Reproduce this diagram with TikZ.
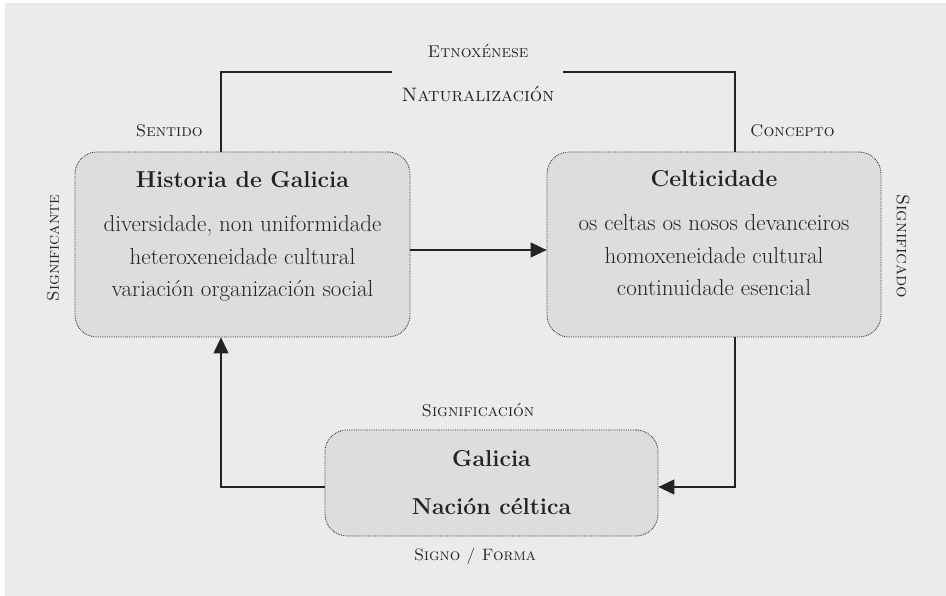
\documentclass[tikz,border=0pt]{standalone}
\usetikzlibrary{arrows.meta}
\definecolor{bgc}{RGB}{235,235,237}
\definecolor{boxc}{RGB}{220,221,223}
\definecolor{inkc}{RGB}{35,35,35}
\begin{document}
\begin{tikzpicture}[x=1pt,y=-1pt,
  box/.style={draw=inkc, densely dotted, line width=0.8pt, fill=boxc, rounded corners=22pt, inner sep=0pt},
  ttl/.style={anchor=base, font=\fontsize{23}{26}\selectfont\bfseries, text=inkc, inner sep=0pt},
  body/.style={anchor=base, font=\fontsize{23}{26}\selectfont, text=inkc, inner sep=0pt},
  lab/.style={anchor=base, font=\fontsize{17}{19}\selectfont\scshape, text=inkc, inner sep=0pt},
  conn/.style={draw=inkc, line width=1.1pt},
  arr/.style={conn, -{Triangle[length=16pt,width=15pt]}}
]
\useasboundingbox (0,0) rectangle (946,596);
\fill[white] (0,0) rectangle (946,596);
\fill[bgc] (5,3) rectangle (946,596);

% boxes
\node[box, minimum width=335pt, minimum height=185pt] (lbox) at (242.5,244.5) {};
\node[box, minimum width=334pt, minimum height=185pt] (rbox) at (714,244.5) {};
\node[box, minimum width=333pt, minimum height=106pt] (bbox) at (491.5,483) {};

% left box text
\node[ttl] (lt) at (242.5,188) {Historia de Galicia};
\node[body] (l1) at (242.5,232) {diversidade, non uniformidade};
\node[body] (l2) at (242.5,264.5) {heteroxeneidade cultural};
\node[body] (l3) at (242.5,297) {variación organización social};

% right box text
\node[ttl] (rt) at (714,187) {Celticidade};
\node[body] (r1) at (714,231) {os celtas os nosos devanceiros};
\node[body] (r2) at (714,263.5) {homoxeneidade cultural};
\node[body] (r3) at (714,296) {continuidade esencial};

% bottom box text
\node[ttl] (bt1) at (491.5,466) {Galicia};
\node[ttl] (bt2) at (491.5,514) {Nación céltica};

% labels
\node[lab] (etno) at (478,58) {Etnoxénese};
\node[lab, font=\fontsize{19.5}{21}\selectfont\scshape] (natu) at (478,102) {Naturalización};
\node[lab, anchor=base east] (sent) at (203,137) {Sentido};
\node[lab, anchor=base west] (conc) at (750,137) {Concepto};
\node[lab] (sigc) at (478,416) {Significación};
\node[lab, font=\fontsize{16.5}{19}\selectfont\scshape] (sigf) at (475,560) {Signo / Forma};
\node[lab, anchor=center, rotate=90] (sgte) at (53,248) {Significante};
\node[lab, anchor=center, rotate=-90, font=\fontsize{18}{20}\selectfont\scshape] (sgdo) at (903,246) {Significado};

% connectors
\coordinate (gl) at (392,72);
\coordinate (gr) at (563,72);
\coordinate (lx) at (221,0);
\coordinate (rx) at (735,0);
\draw[conn] (lbox.north -| lx) |- (gl);
\draw[conn] (rbox.north -| rx) |- (gr);
\draw[arr] (lbox.east |- 0,250) -- (rbox.west |- 0,250);
\coordinate (rdown) at (735,487);
\coordinate (lup) at (221,487);
\draw[arr] (rbox.south -| rdown) -- (rdown) -- (bbox.east |- rdown);
\draw[arr] (bbox.west |- lup) -- (lup) -- (lbox.south -| lup);
\end{tikzpicture}
\end{document}
